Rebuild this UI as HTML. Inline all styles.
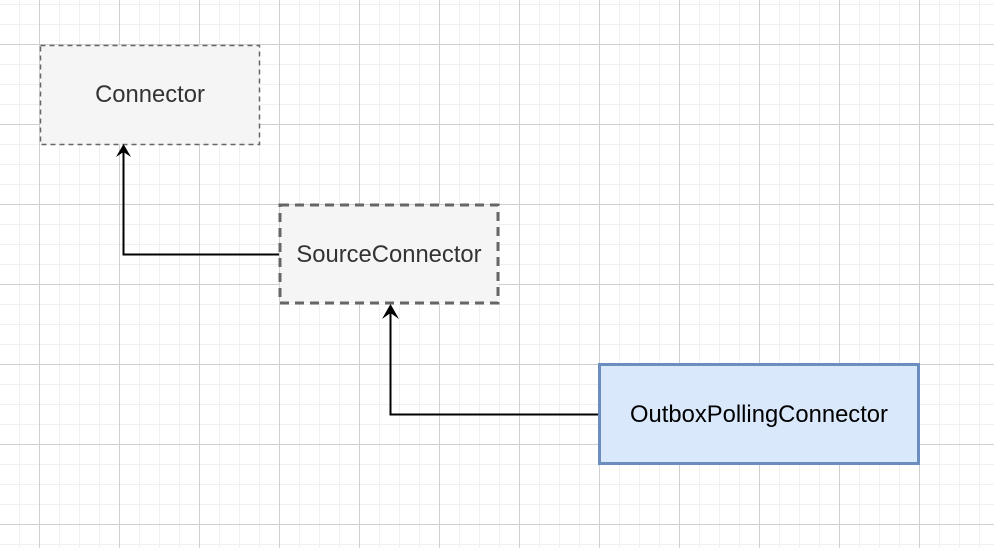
<!DOCTYPE html>
<html><head><style>body{margin:0;}svg{display:block;}</style></head><body>
<svg width="994" height="548" xmlns="http://www.w3.org/2000/svg">
<defs>
<pattern id="minor" width="20" height="20" patternUnits="userSpaceOnUse" x="-1" y="4">
<path d="M0 0.5H20M0.5 0V20" stroke="#f0f0f0" stroke-width="1" fill="none"/>
</pattern>
<pattern id="major" width="80" height="80" patternUnits="userSpaceOnUse" x="39" y="44">
<path d="M0 0.5H80M0.5 0V80" stroke="#d0d0d0" stroke-width="1" fill="none"/>
</pattern>
</defs>
<rect width="994" height="548" fill="#fff"/>
<rect width="994" height="548" fill="url(#minor)"/>
<rect width="994" height="548" fill="url(#major)"/>
<rect x="40.5" y="45.5" width="219" height="99" fill="#f5f5f5" stroke="#666" stroke-width="1.5" stroke-dasharray="5 4"/>
<text x="150" y="102" font-family="Liberation Sans, sans-serif" font-size="23.8" fill="#333" text-anchor="middle">Connector</text>
<rect x="280" y="205" width="218" height="98" fill="#f5f5f5" stroke="#666" stroke-width="3" stroke-dasharray="9 6"/>
<text x="389" y="262" font-family="Liberation Sans, sans-serif" font-size="23.8" fill="#333" text-anchor="middle">SourceConnector</text>
<rect x="599.5" y="364.5" width="319" height="99" fill="#dae8fc" stroke="#6c8ebf" stroke-width="3"/>
<text x="759" y="422" font-family="Liberation Sans, sans-serif" font-size="23.8" fill="#000" text-anchor="middle">OutboxPollingConnector</text>
<path d="M279 254.5H123.5V152" stroke="#000" stroke-width="2" fill="none"/>
<path d="M123.5 144L116 157L123.5 152L131 157Z" fill="#000"/>
<path d="M598 414.5H390.5V312" stroke="#000" stroke-width="2" fill="none"/>
<path d="M390.5 304L382 319L390.5 313L399 319Z" fill="#000"/>
</svg>
</body></html>
